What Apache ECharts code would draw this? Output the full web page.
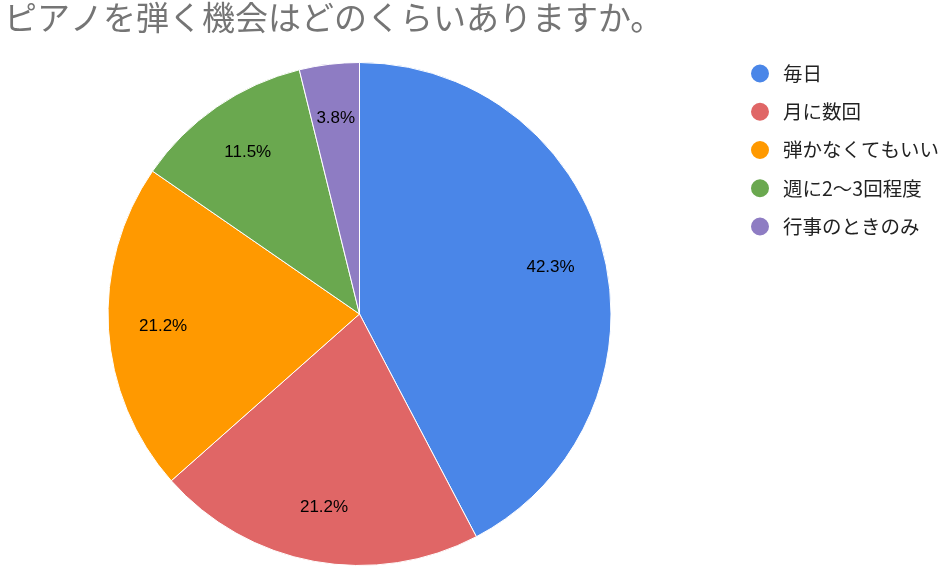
<!DOCTYPE html>
<html><head><meta charset="utf-8">
<script src="https://cdn.jsdelivr.net/npm/echarts@6/dist/echarts.min.js"></script>
<style>html,body{margin:0;padding:0;background:#fff}#c{width:944px;height:568px}</style>
</head><body><div id="c"></div>
<script>
const title = 'ピアノを弾く機会はどのくらいありますか。';
const categories = ['毎日', '月に数回', '弾かなくてもいい', '週に2〜3回程度', '行事のときのみ'];
const values = [22, 11, 11, 6, 2];
const colors = ['#4a86e8', '#e06666', '#ff9900', '#6aa84f', '#8e7cc3'];
const font = '"Noto Sans CJK JP", "Roboto", sans-serif';
const total = values.reduce((a, b) => a + b, 0);
const chart = echarts.init(document.getElementById('c'));
chart.setOption({
  animation: false,
  color: colors,
  title: {
    text: title, left: 4, top: 1, padding: 0,
    textStyle: { fontFamily: font, fontSize: 33, fontWeight: 'normal', color: '#757575' }
  },
  legend: {
    orient: 'vertical', left: 749, top: 62.5, itemGap: 16.25, padding: 0,
    icon: 'circle', itemWidth: 20, itemHeight: 20,
    textStyle: { fontFamily: font, fontSize: 19.5, lineHeight: 20, color: '#222', padding: [0, 0, 0, 8] },
    data: categories
  },
  series: [{
    type: 'pie',
    center: [359.5, 314], radius: 251.5,
    startAngle: 90, clockwise: true,
    itemStyle: { borderColor: '#fff', borderWidth: 1 },
    label: { show: false },
    labelLine: { show: false },
    emphasis: { disabled: true },
    data: categories.map((c, i) => ({ name: c, value: values[i] }))
  }, {
    type: 'pie',
    center: [359.5, 314], radius: [136, 251.5],
    startAngle: 90, clockwise: true, silent: true,
    itemStyle: { color: 'rgba(0,0,0,0)', borderWidth: 0 },
    label: {
      position: 'inner', fontFamily: '"Liberation Sans", Arial, sans-serif', fontSize: 17, color: '#000',
      formatter: p => (p.value / total * 100).toFixed(1) + '%'
    },
    labelLine: { show: false },
    emphasis: { disabled: true },
    data: categories.map((c, i) => ({ name: c, value: values[i] }))
  }]
});
</script></body></html>
